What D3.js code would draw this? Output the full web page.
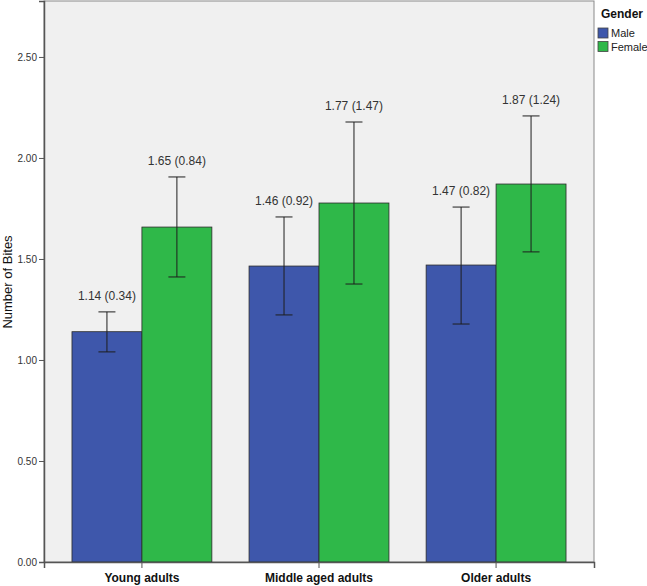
<!DOCTYPE html>
<html>
<head>
<meta charset="utf-8">
<script src="https://cdn.jsdelivr.net/npm/d3@7"></script>
<style>
  body { margin: 0; background: #fff; }
  text { font-family: Arial, "Liberation Sans", sans-serif; }
</style>
</head>
<body>
<div id="chart"></div>
<script>
var groups = ["Young adults", "Middle aged adults", "Older adults"],
    genders = ["Male", "Female"],
    means = { Male: [1.14, 1.465, 1.47], Female: [1.658, 1.777, 1.871] },
    errLow = { Male: [1.04, 1.223, 1.178], Female: [1.411, 1.376, 1.535] },
    errHigh = { Male: [1.238, 1.708, 1.757], Female: [1.906, 2.178, 2.208] },
    labels = { Male: ["1.14 (0.34)", "1.46 (0.92)", "1.47 (0.82)"],
               Female: ["1.65 (0.84)", "1.77 (1.47)", "1.87 (1.24)"] },
    yTicks = [0, 0.5, 1, 1.5, 2, 2.5];

var colors = { Male: "#3e57ab", Female: "#2fb849" };

var width = 647, height = 586,
    margin = {top: 1, right: 53, bottom: 24, left: 44},
    plotW = width - margin.left - margin.right,
    plotH = height - margin.top - margin.bottom;

var svg = d3.select("#chart").append("svg")
    .attr("width", width)
    .attr("height", height);

var g = svg.append("g")
    .attr("transform", "translate(" + margin.left + "," + margin.top + ")");

var x = d3.scaleBand()
    .domain(groups)
    .range([0, plotW])
    .paddingInner(0.21)
    .paddingOuter(0.158);

var xs = d3.scaleBand()
    .domain(genders)
    .range([0, x.bandwidth()]);

var y = d3.scaleLinear()
    .domain([0, 2.777])
    .range([plotH, 0]);

// plot background
g.append("rect")
    .attr("x", 0).attr("y", 0)
    .attr("width", plotW).attr("height", plotH)
    .attr("fill", "#f0f0f0")
    .attr("stroke", "#8a8a8a")
    .attr("stroke-width", 1);

// bars
genders.forEach(function(sex) {
  g.selectAll(".bar-" + sex)
    .data(groups)
    .enter().append("rect")
      .attr("x", function(d) { return x(d) + xs(sex); })
      .attr("y", function(d, i) { return y(means[sex][i]); })
      .attr("width", xs.bandwidth())
      .attr("height", function(d, i) { return plotH - y(means[sex][i]); })
      .attr("fill", colors[sex])
      .attr("stroke", "#2a2a2a")
      .attr("stroke-width", 0.8);
});

// error bars and labels
var cap = 8.5;
genders.forEach(function(sex) {
  groups.forEach(function(d, i) {
    var cx = x(d) + xs(sex) + xs.bandwidth() / 2;
    var eb = g.append("g").attr("stroke", "#1e1e1e").attr("stroke-width", 1);
    eb.append("line")
      .attr("x1", cx).attr("x2", cx)
      .attr("y1", y(errLow[sex][i])).attr("y2", y(errHigh[sex][i]));
    eb.append("line")
      .attr("x1", cx - cap).attr("x2", cx + cap)
      .attr("y1", y(errLow[sex][i])).attr("y2", y(errLow[sex][i]));
    eb.append("line")
      .attr("x1", cx - cap).attr("x2", cx + cap)
      .attr("y1", y(errHigh[sex][i])).attr("y2", y(errHigh[sex][i]));
    g.append("text")
      .attr("x", cx)
      .attr("y", y(errHigh[sex][i]) - 12)
      .attr("text-anchor", "middle")
      .attr("font-size", "12px")
      .attr("fill", "#333")
      .text(labels[sex][i]);
  });
});

// y axis
var yAxis = d3.axisLeft(y)
    .tickValues(yTicks)
    .tickSize(5)
    .tickPadding(2)
    .tickFormat(d3.format(".2f"));

g.append("g")
    .attr("class", "y axis")
    .call(yAxis)
    .call(function(a) {
      a.select(".domain").attr("stroke", "#555").attr("stroke-width", 1.5);
      a.selectAll(".tick line").attr("stroke", "#555");
      a.selectAll(".tick text").attr("font-size", "10px").attr("fill", "#333")
        .attr("font-family", "Arial, 'Liberation Sans', sans-serif");
    });

// x axis
var xAxis = d3.axisBottom(x)
    .tickSize(6)
    .tickPadding(5);

g.append("g")
    .attr("class", "x axis")
    .attr("transform", "translate(0," + plotH + ")")
    .call(xAxis)
    .call(function(a) {
      a.select(".domain").attr("stroke", "#555").attr("stroke-width", 1.5);
      a.selectAll(".tick line").attr("stroke", "#555");
      a.selectAll(".tick text").attr("font-size", "12px").attr("font-weight", "bold")
        .attr("fill", "#111")
        .attr("font-family", "Arial, 'Liberation Sans', sans-serif");
    });

// y title
svg.append("text")
    .attr("transform", "translate(12,282) rotate(-90)")
    .attr("text-anchor", "middle")
    .attr("font-size", "13px")
    .attr("fill", "#111")
    .text("Number of Bites");

// legend
var legend = svg.append("g").attr("transform", "translate(598,0)");
legend.append("text")
    .attr("x", 3).attr("y", 18)
    .attr("font-size", "12px")
    .attr("font-weight", "bold")
    .attr("fill", "#111")
    .text("Gender");

var items = legend.selectAll(".item")
    .data(genders)
    .enter().append("g")
      .attr("transform", function(d, i) { return "translate(0," + (28 + i * 13.5) + ")"; });

items.append("rect")
    .attr("width", 10).attr("height", 10)
    .attr("fill", function(d) { return colors[d]; })
    .attr("stroke", "#444")
    .attr("stroke-width", 0.8);

items.append("text")
    .attr("x", 13).attr("y", 9)
    .attr("font-size", "11px")
    .attr("fill", "#222")
    .text(function(d) { return d; });
</script>
</body>
</html>
